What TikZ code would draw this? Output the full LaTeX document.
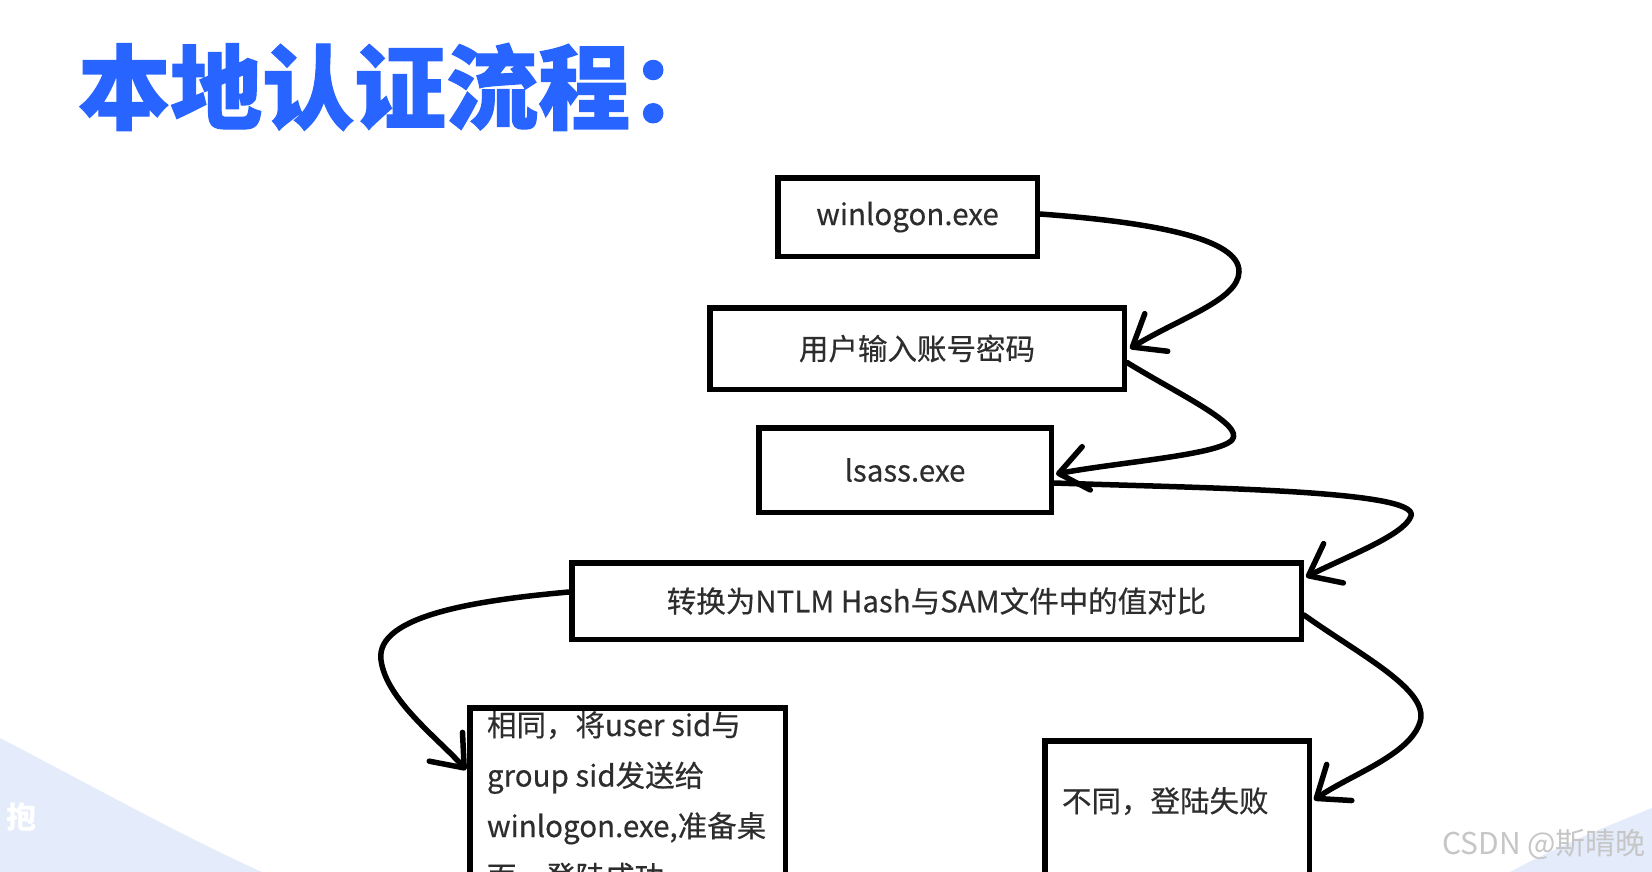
\documentclass[tikz,border=0pt]{standalone}
\usepackage{fontspec}
\newfontfamily\cjk{Noto Sans CJK SC}
\newfontfamily\cjkt{Noto Sans CJK SC}[BoldFeatures={FakeBold=1.2}]
\newfontfamily\cjkm{Noto Sans CJK SC}[FakeBold=0.4]
\usetikzlibrary{arrows.meta}
\definecolor{titleblue}{RGB}{40,100,255}
\definecolor{boxtext}{RGB}{45,45,45}
\definecolor{wedge}{RGB}{228,236,251}
\definecolor{wmgray}{RGB}{198,198,198}
\begin{document}
\begin{tikzpicture}[x=1pt,y=-1pt,
  box/.style={draw=black, line width=5.5pt, rectangle, inner sep=0pt,
    font=\cjkm\fontsize{29.5}{35}\selectfont, text=boxtext},
  flow/.style={draw=black, line width=5.5pt, line cap=round, line join=round,
    -{Straight Barb[length=28pt,width=44pt,line width=5.5pt,round]}}]
\useasboundingbox (0,0) rectangle (1652,872);
\clip (0,0) rectangle (1652,872);
\fill[white] (0,0) rectangle (1652,872);
\fill[wedge] (0,738) .. controls (100,790) and (180,835) .. (262,872) -- (0,872) -- cycle;
\fill[wedge] (1510,872) .. controls (1560,845) and (1610,825) .. (1652,808) -- (1652,872) -- cycle;

\node[anchor=base west, inner sep=0pt, text=titleblue,
  font=\cjkt\bfseries\fontsize{92}{110}\selectfont] (title) at (78,122) {本地认证流程：};

\node[box, minimum width=259.5pt, minimum height=78.5pt] (w) at (907.5,217) {winlogon.exe};
\node[box, minimum width=414.5pt, minimum height=81.5pt] (u) at (917,348.5) {用户输入账号密码};
\node[box, minimum width=292.5pt, minimum height=84.5pt] (l) at (905,470) {lsass.exe};
\node[box, minimum width=729.5pt, minimum height=76.5pt] (c) at (936.5,601) {转换为NTLM Hash与SAM文件中的值对比};
\node[box, anchor=north west, minimum width=315.5pt, text height=28.25pt, text depth=250pt] (s) at (467,705)
  {\parbox[t]{281pt}{\raggedright\fontsize{29.5}{50.5}\selectfont 相同，将user sid与\\group sid发送给\\winlogon.exe,准备桌\\面，登陆成功}};
\node[box, anchor=north west, minimum width=264.5pt, text height=71.25pt, text depth=250pt] (f) at (1042,738)
  {\parbox[t]{230pt}{不同，登陆失败}};

\node[anchor=base east, inner sep=0pt, text=wmgray, font=\cjk\fontsize{30}{36}\selectfont] (wm) at (1646,854) {CSDN @斯晴晚};
\node[inner sep=0pt, text=white, font=\cjk\bfseries\fontsize{30}{36}\selectfont] (bl) at (21,817) {抱};

\draw[flow] ([yshift=3pt]w.east) .. controls (1150,222) and (1240,238) .. (1239,272)
  .. controls (1238,300) and (1180,318) .. ([xshift=3pt]u.east);
\draw[flow] ([yshift=-14pt]u.east) .. controls (1180,395) and (1245,425) .. (1232,440)
  .. controls (1218,455) and (1120,462) .. ([xshift=2pt,yshift=-4pt]l.east);
\draw[flow] ([yshift=-13pt]l.east) .. controls (1200,488) and (1420,490) .. (1411,516)
  .. controls (1404,535) and (1350,555) .. ([xshift=2pt,yshift=24pt]c.east);
\draw[flow] ([yshift=9pt]c.west) .. controls (480,600) and (375,615) .. (381,660)
  .. controls (386,700) and (440,740) .. ([xshift=-1pt,yshift=-65pt]s.north west);
\draw[flow] ([yshift=-14pt]c.east) .. controls (1360,655) and (1430,690) .. (1420,722)
  .. controls (1410,755) and (1350,775) .. ([xshift=2pt,yshift=-62pt]f.north east);
\end{tikzpicture}
\end{document}
